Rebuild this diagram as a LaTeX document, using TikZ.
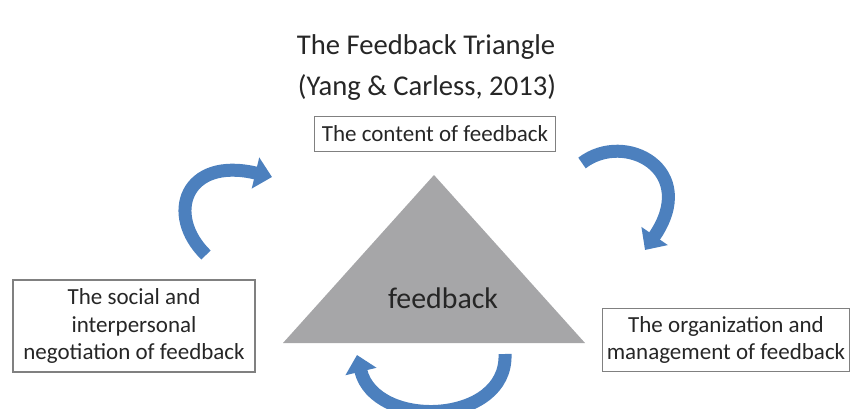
\documentclass[tikz,border=0pt]{standalone}
\usepackage{fontspec}
\setmainfont{Carlito}
\usetikzlibrary{positioning,arrows.meta}

\definecolor{arrowblue}{RGB}{76,128,190}
\definecolor{trigray}{RGB}{166,166,168}
\definecolor{boxgray}{RGB}{128,128,128}
\definecolor{txtgray}{RGB}{38,38,38}

\begin{document}
\begin{tikzpicture}[x=0.02cm, y=-0.02cm,
    label/.style={text=txtgray, font=\fontsize{16.3}{19}\selectfont},
    box/.style={draw=boxgray, line width=0.6pt, text=txtgray, align=center,
        inner sep=0pt, font=\fontsize{13.1}{15.8}\selectfont},
    turn/.style={arrowblue, line width=0.26cm,
        -{Triangle[length=0.34cm, width=0.62cm]}}]
    \useasboundingbox (0,0) rectangle (850,409);

    \node [label] (title) at (426,47) {The Feedback Triangle};
    \node [label] (ref) at (427,87) {(Yang \& Carless, 2013)};

    % the triangle
    \coordinate (apex) at (434,175);
    \coordinate (bl) at (283,343);
    \coordinate (br) at (585,343);
    \fill [trigray] (apex) -- (br) -- (bl) -- cycle;
    \node [label, font=\fontsize{17}{20}\selectfont] (fb) at (443,298) {feedback};

    \node [box, minimum width=4.82cm, minimum height=0.7cm] (content) at (435,134) {The content of feedback};
    \node [box, minimum width=4.84cm, minimum height=1.84cm] (social) at (134,326) {The social and\\interpersonal\\negotiation of feedback};
    \node [box, minimum width=4.94cm, minimum height=1.26cm] (org) at (726,340) {The organization and\\management of feedback};

    % the three turning arrows
    \coordinate (tl0) at (206,255);
    \coordinate (tl1) at (272,177);
    \coordinate (tr0) at (582,163);
    \coordinate (tr1) at (645,250);
    \coordinate (bt0) at (505,354);
    \coordinate (bt1) at (357,355);
    \draw [turn] (tl0) .. controls (165,215) and (185,156) .. (tl1);
    \draw [turn] (tr0) .. controls (625,130) and (700,170) .. (tr1);
    \draw [turn] (bt0) .. controls (508,425) and (375,430) .. (bt1);
\end{tikzpicture}
\end{document}
